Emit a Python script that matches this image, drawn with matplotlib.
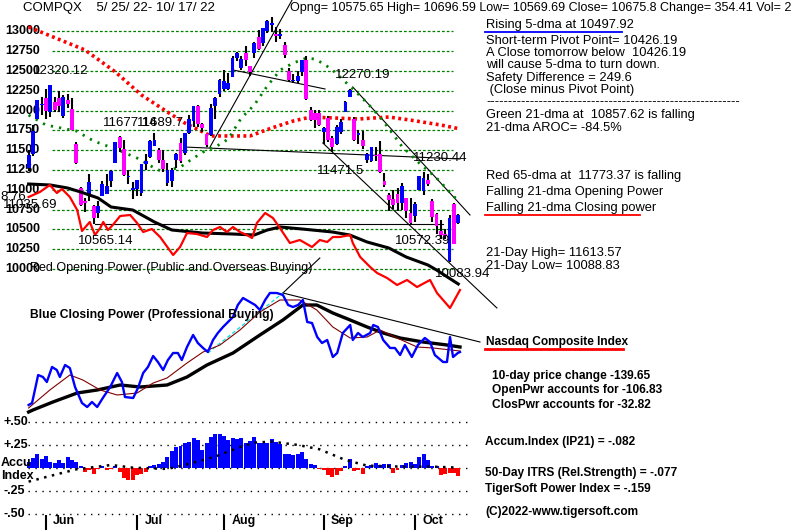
import matplotlib
matplotlib.use("Agg")
import matplotlib.pyplot as plt
from matplotlib.lines import Line2D
import numpy as np

plt.rcParams["font.family"] = ["Liberation Sans", "DejaVu Sans"]

# ---------------------------------------------------------------------------
# Data
# ---------------------------------------------------------------------------
OPENS = [11278, 11457, 11896, 12070, 12157, 11987, 12109, 12165, 11937, 12135,
         12023, 11584, 11017, 10861, 10929, 10795, 10706, 10927, 10952, 11112,
         11333, 11661, 11521, 11167, 11003, 11005, 10954, 11323, 11410, 11550,
         11500, 11381, 11080, 11110, 11370, 11589, 11470, 11717, 11868, 12058,
         11832, 11706, 11690, 12063, 12215, 12278, 12267, 12425, 12660, 12536,
         12733, 12559, 12727, 12929, 12857, 13010, 13075, 12970, 12937, 12828,
         12500, 12380, 12375, 12486, 12634, 12003, 11976, 11976, 11733, 11910,
         11648, 11573, 11735, 11986, 12174, 11899, 11688, 11633, 11371, 11367,
         11445, 11455, 11110, 10939, 10879, 10946, 10831, 10901, 10703, 10672,
         10999, 10979, 11118, 10855, 10697, 10484, 10442, 10095, 10820, 10575.65]
HIGHS = [11501, 11818, 12131, 12176, 12269, 12320, 12176, 12244, 12199, 12205,
         12155, 11599, 11030, 10897, 11200, 10806, 10855, 11114, 11203, 11256,
         11608, 11678, 11630, 11244, 11101, 11129, 11324, 11455, 11633, 11720,
         11522, 11508, 11344, 11270, 11460, 11660, 11713, 11946, 12059, 12072,
         11849, 11706, 12081, 12171, 12405, 12512, 12472, 12685, 12734, 12693,
         12812, 12564, 12861, 13016, 13047, 13149, 13181, 13061, 13029, 12860,
         12540, 12460, 12497, 12639, 12692, 12045, 12005, 12006, 11794, 11930,
         11684, 11817, 11897, 12115, 12270, 11924, 11752, 11737, 11459, 11544,
         11538, 11612, 11211, 10956, 11000, 11019, 11088, 10901, 10895, 10844,
         11176, 11230, 11205, 10878, 10711, 10617, 10510, 10684, 10829, 10696.59]
LOWS = [11235, 11431, 11896, 11949, 11895, 11913, 11978, 11981, 11910, 12027,
        11750, 11320, 10793, 10714, 10860, 10565, 10646, 10918, 10951, 11041,
        11333, 11476, 11180, 11070, 10890, 10924, 10922, 11247, 11402, 11550,
        11335, 11220, 11050, 11037, 11275, 11336, 11436, 11706, 11795, 11789,
        11731, 11541, 11684, 11889, 12174, 12246, 12262, 12422, 12627, 12509,
        12569, 12436, 12658, 12763, 12822, 12979, 12991, 12861, 12903, 12670,
        12359, 12346, 12345, 12433, 12131, 11867, 11775, 11808, 11573, 11604,
        11483, 11565, 11701, 11986, 12174, 11618, 11582, 11512, 11337, 11346,
        11366, 11214, 11035, 10732, 10761, 10737, 10741, 10640, 10572, 10595,
        10998, 10939, 11053, 10598, 10441, 10384, 10376, 10089, 10311, 10569.69]
CLOSES = [11434, 11741, 12131, 12081, 11994, 12317, 12013, 12061, 12175, 12086,
          11754, 11340, 10809, 10828, 11099, 10646, 10798, 11069, 11053, 11232,
          11608, 11525, 11182, 11178, 11029, 11128, 11322, 11362, 11621, 11635,
          11373, 11265, 11248, 11252, 11452, 11360, 11713, 11898, 12060, 11834,
          11782, 11563, 12032, 12163, 12391, 12369, 12349, 12668, 12721, 12657,
          12644, 12493, 12855, 12779, 13047, 13128, 13103, 12938, 12966, 12705,
          12381, 12381, 12431, 12639, 12141, 11884, 11883, 11816, 11785, 11631,
          11544, 11791, 11862, 12112, 12266, 11634, 11719, 11552, 11448, 11535,
          11425, 11220, 11066, 10868, 10803, 10829, 11051, 10737, 10576, 10815,
          11176, 11148, 11074, 10652, 10542, 10426, 10417, 10649, 10321, 10675.8]

MA65_DAY = [0, 13, 20, 26, 32, 36, 42, 51, 56, 61, 65, 76, 83, 88, 95, 99]
MA65 = [13056, 12765, 12488, 12197, 11982, 11843, 11680, 11680, 11780, 11869,
        11919, 11894, 11919, 11880, 11818, 11773]

MA21_DAY = [0, 4, 11, 15, 20, 25, 29, 31, 35, 38, 41, 43, 46, 49, 52, 55, 58,
            61, 64, 66, 68, 70, 72, 75, 78, 81, 84, 86, 90, 94, 99]
MA21 = [11944, 11818, 11742, 11616, 11515, 11401, 11275, 11225, 11288, 11401,
        11503, 11540, 11640, 11906, 12071, 12311, 12513, 12601, 12664, 12650,
        12590, 12513, 12412, 12260, 12096, 11919, 11700, 11550, 11338, 11149,
        10858]

# price trend lines: (day, price) pairs
TREND_LINES = [
    ((41.8, 11540), (60.7, 13396)),
    ((47.1, 12513), (68.3, 12273)),
    ((74.7, 12298), (101.7, 10682)),
    ((67.8, 11591), (107.9, 9508)),
    ((15.3, 10568), (95.5, 10568)),
    ((36.0, 11540), (99.4, 11389)),
]

PRICE_TICKS = [13000, 12750, 12500, 12250, 12000, 11750, 11500, 11250, 11000,
               10750, 10500, 10250, 10000]

# Opening power (arbitrary units)
OP_DAY = [0, 2.6, 4.9, 6.5, 7.7, 9.5, 11.2, 12.3, 14.1, 15.3, 16.5, 17.2, 18.3,
          19.4, 21.1, 23.4, 25.0, 26.4, 28.4, 30.3, 33.3, 34.9, 36.5, 38.8,
          41.1, 42.5, 44.1, 45.7, 47.1, 48.7, 50.3, 51.5, 52.6, 54.5, 56.3,
          57.9, 60.2, 62.5, 65.3, 67.1, 68.8, 70.1, 71.7, 74.1, 74.7, 76.4,
          78.7, 80.3, 82.6, 84.9, 87.2, 89.5, 92.5, 94.1, 97.1, 99.4]
OP = [103, 108, 115, 107, 111, 103, 90, 69, 78, 65, 72, 78, 70, 75, 84, 85, 77,
      68, 71, 63, 45, 53, 67, 66, 63, 70, 73, 68, 73, 68, 65, 62, 77, 87, 82,
      72, 57, 60, 53, 60, 58, 63, 63, 65, 57, 43, 33, 27, 22, 15, 20, 13, 20,
      7, -8, 10]
OP_MA_DAY = [0, 5, 9, 12, 16, 19, 24, 29, 33, 40, 47, 52, 55, 58, 63, 70, 74,
             78, 83, 87, 92, 94, 99]
OP_MA = [116, 115, 112, 108, 102, 93, 90, 78, 70, 67, 66, 65, 70, 73, 71, 68,
         65, 58, 52, 43, 35, 30, 16]
OP_TREND = ((58.6, 7), (67.1, 42))

# Closing power (arbitrary units)
CP_DAY = [0.0, 0.8, 2.2, 3.3, 4.2, 5.4, 6.5, 7.2, 8.4, 9.5, 10.7, 12.3, 13.5,
          14.6, 15.8, 17.1, 18.8, 20.4, 21.5, 22.2, 24.1, 25.2, 26.4, 27.5,
          28.7, 29.8, 31.0, 32.1, 33.3, 34.4, 35.3, 36.5, 37.9, 39.0, 40.2,
          41.3, 42.5, 43.6, 44.8, 46.4, 47.1, 48.2, 49.4, 51.0, 52.2, 53.3,
          54.5, 55.6, 57.2, 58.6, 59.8, 60.9, 62.1, 63.2, 64.2, 65.3, 66.5,
          67.6, 68.8, 70.1, 71.1, 72.4, 74.1, 74.7, 75.9, 77.0, 78.7, 79.4,
          80.5, 81.7, 83.3, 84.4, 85.6, 86.7, 88.3, 89.7, 91.3, 92.5, 93.6,
          95.5, 96.4, 97.1, 97.8, 98.9, 99.4]
CP = [15, 17, 45, 43, 38, 53, 50, 43, 55, 52, 33, 17, 13, 18, 13, 22, 33, 47,
      38, 23, 22, 32, 47, 53, 64, 58, 50, 60, 67, 67, 60, 73, 85, 77, 72, 68,
      80, 87, 93, 100, 103, 115, 122, 118, 115, 110, 120, 127, 127, 125, 115,
      113, 115, 120, 98, 97, 83, 77, 80, 63, 67, 87, 95, 80, 87, 83, 87, 95,
      93, 80, 72, 72, 65, 75, 63, 75, 82, 78, 65, 58, 58, 83, 63, 67, 68]
CP_MA10_DAY = [0, 4.9, 9.5, 12.5, 16.5, 20.4, 25.0, 28.7, 31.9, 36.5, 40.2,
               44.1, 48.7, 53.3, 57.9, 62.5, 66.4, 70.1, 74.1, 78.0, 81.0,
               84.9, 89.5, 93.2, 99.4]
CP_MA10 = [12, 30, 45, 40, 30, 25, 27, 37, 42, 57, 68, 75, 90, 108, 120, 120,
           110, 93, 82, 83, 90, 82, 73, 72, 69]
CP_MA21_DAY = [0, 1.0, 5.6, 11.2, 15.8, 21.1, 25.7, 31.9, 36.5, 41.1, 47.1,
               53.3, 58.6, 63.2, 66.4, 70.1, 74.1, 78.0, 81.7, 85.6, 90.9,
               96.4, 99.4]
CP_MA21 = [8, 10, 18, 27, 30, 35, 33, 35, 43, 55, 67, 85, 100, 115, 115, 107,
           100, 93, 87, 82, 78, 75, 73]
CP_TREND = ((58.6, 127), (104.0, 78))
CP_TREND2 = ((41.3, 67), (58.6, 127))

# Accumulation index (IP21)
ACCUM = [.07, .11, .15, .10, .13, .07, .06, .09, .06, .12,
         .09, .07, .02, -.04, -.02, -.06, -.01, .02, -.02, -.01,
         .03, -.04, -.11, -.13, -.13, -.07, -.06, -.04, .03, .04,
         .05, .07, .12, .19, .23, .24, .28, .29, .33, .31,
         .20, .27, .34, .37, .37, .35, .31, .33, .32, .33,
         .27, .30, .34, .27, .27, .27, .32, .29, .26, .16,
         .16, .14, .16, .18, .10, .05, .04, -.01, -.02, -.07,
         -.10, -.07, -.03, .02, .10, -.03, -.02, -.06, .02, .04,
         .06, .04, .05, .05, -.05, -.02, .04, .06, .07, .05,
         .12, .16, .09, .03, .02, -.07, -.06, -.05, -.05, -.082]
ACC_MA_DAY = [0, 5, 11, 19, 24, 32, 36, 43, 49, 52, 56, 62, 67, 73, 78, 86,
              93, 99]
ACC_MA = [-.145, -.083, -.011, .036, .007, -.007, .036, .127, .236, .279, .29,
          .254, .207, .09, .029, .018, .018, .007]
ACC_TICKS = [0.50, 0.25, 0.0, -0.25, -0.50]
ACC_TICK_LABELS = ["+.50", "+.25", None, "-.25", "-.50"]

MONTH_DAY = [4, 25, 45, 68, 89]
MONTH_LABELS = ["Jun", "Jul", "Aug", "Sep", "Oct"]

# ---------------------------------------------------------------------------
# Layout helpers
# ---------------------------------------------------------------------------
W, H = 800, 532
PX_PER_DAY = 4.34
X_FIRST = 28.6  # pixel of day 0
XLIM = (-X_FIRST / PX_PER_DAY, (W - X_FIRST) / PX_PER_DAY)

fig = plt.figure(figsize=(W / 100, H / 100), dpi=100)
fig.patch.set_facecolor("white")


def fx(px):
    return px / W


def fy(py):
    return 1 - py / H


def panel(ylim, z):
    ax = fig.add_axes([0, 0, 1, 1], zorder=z)
    ax.set_xlim(*XLIM)
    ax.set_ylim(*ylim)
    ax.axis("off")
    return ax


def ftext(px, py, s, size=9, weight="normal", **kw):
    fig.text(fx(px), fy(py), s, fontsize=size, fontweight=weight,
             va="center", ha=kw.pop("ha", "left"), **kw)


def fline(x0, x1, py, color, lw=1.2):
    fig.add_artist(Line2D([fx(x0), fx(x1)], [fy(py), fy(py)], color=color,
                          lw=lw, transform=fig.transFigure))


# ---------------------------------------------------------------------------
# Price panel
# ---------------------------------------------------------------------------
ax = panel((6679.3, 13396.5), 3)
ax.hlines(PRICE_TICKS, fx(52), fx(453), transform=ax.get_yaxis_transform(),
          colors="#008000", lw=0.9, linestyles=(0, (2.2, 1.6)), zorder=1)
for t in PRICE_TICKS:
    ax.text(fx(5), t, str(t), transform=ax.get_yaxis_transform(),
            fontsize=9, fontweight="bold", va="center", ha="left")

for a, b in TREND_LINES:
    ax.plot([a[0], b[0]], [a[1], b[1]], color="black", lw=0.8, zorder=2)

ax.plot(MA65_DAY, MA65, color="#ff0000", lw=2.6,
        linestyle=(0, (0.8, 0.95)), zorder=3)
ax.plot(MA21_DAY, MA21, color="#008000", lw=2.0,
        linestyle=(0, (0.8, 2.2)), zorder=3)

days = np.arange(len(CLOSES))
o = np.array(OPENS, dtype=float)
c = np.array(CLOSES, dtype=float)
ax.vlines(days, LOWS, HIGHS, color="black", lw=1.5, zorder=4)
body_col = np.where(c >= o, "#0000ff", "#ff00ff")
ax.bar(days, c - o, bottom=o, width=0.88, color=body_col, zorder=5)

# ---------------------------------------------------------------------------
# Opening power panel
# ---------------------------------------------------------------------------
axo = panel((-232, 300), 4)
axo.plot(OP_MA_DAY, OP_MA, color="black", lw=2.2, zorder=2)
axo.plot(OP_DAY, OP, color="#ff0000", lw=1.6, zorder=3)
axo.plot([OP_TREND[0][0], OP_TREND[1][0]], [OP_TREND[0][1], OP_TREND[1][1]],
         color="black", lw=0.8)

# ---------------------------------------------------------------------------
# Closing power panel
# ---------------------------------------------------------------------------
axc = panel((-112, 420), 4)
axc.plot([CP_TREND[0][0], CP_TREND[1][0]], [CP_TREND[0][1], CP_TREND[1][1]],
         color="black", lw=0.8)
axc.plot([CP_TREND2[0][0], CP_TREND2[1][0]], [CP_TREND2[0][1], CP_TREND2[1][1]],
         color="#00e0e0", lw=0.9, linestyle=(0, (3, 2)))
axc.plot(CP_MA21_DAY, CP_MA21, color="black", lw=2.4, zorder=2)
axc.plot(CP_MA10_DAY, CP_MA10, color="#800000", lw=0.8, zorder=3)
axc.plot(CP_DAY, CP, color="#0000ff", lw=1.7, zorder=4)

# ---------------------------------------------------------------------------
# Accumulation panel
# ---------------------------------------------------------------------------
axa = panel((-0.6924, 5.09), 2)
axa.hlines(ACC_TICKS, fx(28), fx(472), transform=axa.get_yaxis_transform(),
           colors="black", lw=1.0, linestyles=(0, (1, 4)))
acc = np.array(ACCUM)
axa.bar(np.arange(len(acc)), acc, width=0.92,
        color=np.where(acc >= 0, "#0000ff", "#ff0000"), zorder=2)
axa.plot(ACC_MA_DAY, ACC_MA, color="black", lw=1.8,
         linestyle=(0, (1, 2.2)), zorder=3)
for t, lab in zip(ACC_TICKS, ACC_TICK_LABELS):
    if lab:
        axa.text(fx(4), t, lab, transform=axa.get_yaxis_transform(),
                 fontsize=9, fontweight="bold", va="center", ha="left")
ftext(1, 463, "Accu", weight="bold")
ftext(1, 476, "Index", weight="bold")

axa.vlines(MONTH_DAY, -0.508, -0.675, color="black", lw=1.5)
for d, lab in zip(MONTH_DAY, MONTH_LABELS):
    axa.text(d + 1.7, -0.575, lab, fontsize=9, fontweight="bold",
             va="center", ha="left")

# ---------------------------------------------------------------------------
# Labels and text blocks
# ---------------------------------------------------------------------------
ftext(23, 8, "COMPQX    5/ 25/ 22- 10/ 17/ 22", size=9.5)
ftext(290, 8, "Opng= 10575.65 High= 10696.59 Low= 10569.69 Close= 10675.8 "
      "Change= 354.41 Vol= 2", size=9.0)

for px, py, s in [(33, 71, "12320.12"), (103, 123, "11677.14"),
                  (137, 123, "11689.7"), (3, 205, "11035.69"),
                  (0, 197, "8.76"), (78, 241, "10565.14"),
                  (335, 75, "12270.19"), (317, 171, "11471.5"),
                  (413, 158, "11230.44"), (395, 241, "10572.39"),
                  (435, 274, "10083.94")]:
    ftext(px, py, s, size=9.5, zorder=6)

ftext(30, 268, "Red Opening Power (Public and Overseas Buying)", size=9,
      zorder=6)
ftext(30, 315, "Blue Closing Power (Professional Buying)", size=8.7,
      weight="bold", zorder=6)

top_block = [
    ("Rising 5-dma at 10497.92", 25),
    ("Short-term Pivot Point= 10426.19", 41),
    ("A Close tomorrow below  10426.19", 53),
    ("will cause 5-dma to turn down.", 65),
    ("Safety Difference = 249.6", 78),
    (" (Close minus Pivot Point)", 90),
    ("-" * 58, 102),
    ("Green 21-dma at  10857.62 is falling", 115),
    ("21-dma AROC= -84.5%", 128),
    ("Red 65-dma at  11773.37 is falling", 176),
    ("Falling 21-dma Opening Power", 192),
    ("Falling 21-dma Closing power", 208),
    ("21-Day High= 11613.57", 253),
    ("21-Day Low= 10088.83", 266),
]
for s, py in top_block:
    ftext(486, py, s, size=9.3)
fline(485, 622, 32, "#0000ff", 1.3)
fline(485, 640, 215, "#ff0000", 1.3)

bottom_block = [
    ("Nasdaq Composite Index", 486, 342),
    ("10-day price change -139.65", 492, 376),
    ("OpenPwr accounts for -106.83", 492, 390),
    ("ClosPwr accounts for -32.82", 492, 405),
    ("Accum.Index (IP21) = -.082", 485, 442),
    ("50-Day ITRS (Rel.Strength) = -.077", 485, 473),
    ("TigerSoft Power Index = -.159", 485, 489),
    ("(C)2022-www.tigersoft.com", 485, 512),
]
for s, px, py in bottom_block:
    ftext(px, py, s, size=8.6, weight="bold")
fline(485, 623, 349, "#ff0000", 2.0)

fig.savefig("out.png", dpi=100)
